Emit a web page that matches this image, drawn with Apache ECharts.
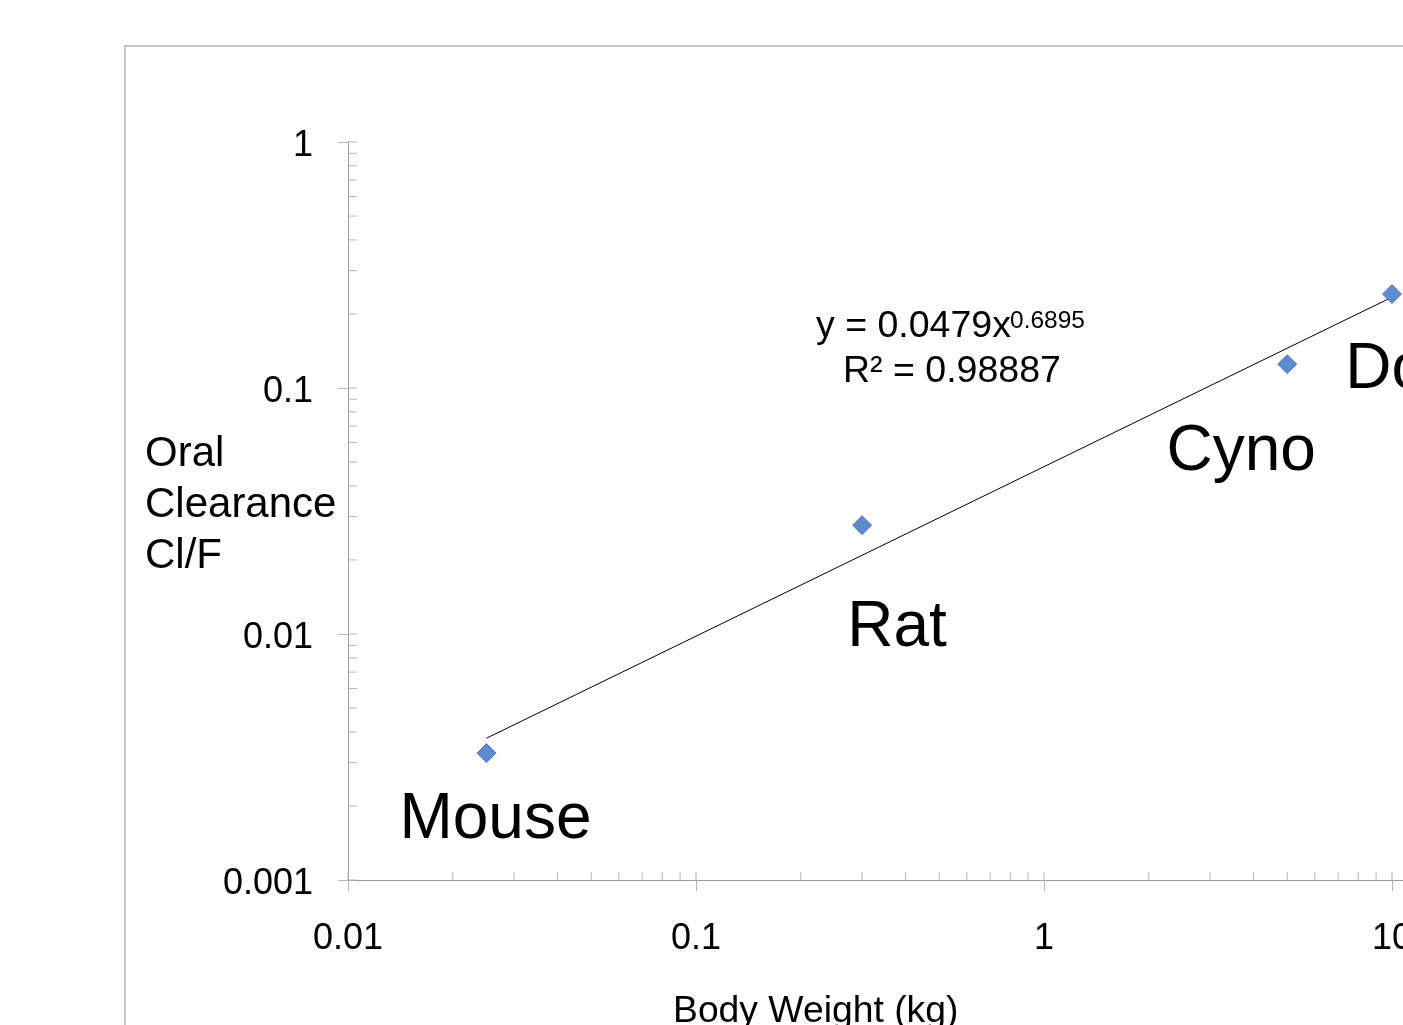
<!DOCTYPE html>
<html>
<head>
<meta charset="utf-8">
<script src="https://cdn.jsdelivr.net/npm/echarts@6/dist/echarts.min.js"></script>
<style>
  html, body { margin: 0; padding: 0; background: #fff; overflow: hidden; }
  #chart { width: 1800px; height: 1025px; }
</style>
</head>
<body>
<div id="chart"></div>
<script>
'use strict';

// species, body weight (kg) and oral clearance Cl/F
const species = ['Mouse', 'Rat', 'Cyno', 'Dog'];
const bodyWeight = [0.025, 0.30, 5.0, 10];
const clearance = [0.00328, 0.0277, 0.125, 0.241];

// power trendline y = 0.0479x^0.6895, end points
const trendX = [0.025, 10];
const trendY = [0.00377, 0.234];

const xTickLabels = ['0.01', '0.1', '1', '10', '100'];
const yTickLabels = ['0.001', '0.01', '0.1', '1'];

// label placement, px from the marker
const labelOffsets = [[9, 67], [35, 103], [-46, 88], [12, 76]];

const FONT = '"Liberation Sans", Arial, sans-serif';
const axisGray = '#9c9c9c';
const tickGray = '#b5b5b5';

// minor ticks at 2..9 within each decade
function minorTicks(from, to) {
    const out = [];
    for (let d = from; d < to; d++) {
        for (let k = 2; k <= 9; k++) out.push(k * Math.pow(10, d));
    }
    return out;
}
const xMinor = minorTicks(-2, 2);
const yMinor = minorTicks(-3, 0);
const xMajor = xTickLabels.map(Number);
const yMajor = yTickLabels.map(Number);

const chart = echarts.init(document.getElementById('chart'));

function tickItem(x1, y1, x2, y2) {
    return {
        type: 'line',
        shape: {x1, y1, x2, y2},
        style: {stroke: tickGray, lineWidth: 1}
    };
}

function labelFor(majors, labels, wrap) {
    return v => {
        const i = majors.findIndex(m => Math.abs(Math.log10(m) - Math.log10(v)) < 1e-6);
        if (i < 0) return '';
        return wrap ? '{a|' + labels[i] + '}' : labels[i];
    };
}

chart.setOption({
    animation: false,
    backgroundColor: '#fff',
    grid: {left: 348, top: 142, width: 1392, height: 738, containLabel: false},
    xAxis: {
        type: 'log',
        logBase: 10,
        min: 0.01,
        max: 100,
        axisLine: {lineStyle: {color: axisGray, width: 1}},
        axisTick: {show: true, length: 11, lineStyle: {color: tickGray}},
        splitLine: {show: false},
        axisLabel: {
            color: '#000', fontFamily: FONT, fontSize: 36, margin: 41,
            formatter: labelFor(xMajor, xTickLabels, false)
        }
    },
    yAxis: {
        type: 'log',
        logBase: 10,
        min: 0.001,
        max: 1,
        axisLine: {show: true, lineStyle: {color: axisGray, width: 1}},
        axisTick: {show: true, length: 10, lineStyle: {color: tickGray}},
        splitLine: {show: false},
        axisLabel: {
            color: '#000', fontFamily: FONT, fontSize: 36, margin: 35,
            formatter: labelFor(yMajor, yTickLabels, true),
            rich: {
                a: {color: '#000', fontFamily: FONT, fontSize: 36, padding: [8, 0, 0, 0]}
            }
        }
    },
    graphic: [
        {
            type: 'rect',
            shape: {x: 125, y: 46, width: 2000, height: 2000},
            style: {fill: 'none', stroke: '#c6c6c6', lineWidth: 2},
            silent: true
        },
        {
            type: 'text', left: 145, top: 429,
            style: {
                text: 'Oral\nClearance\nCl/F',
                fontFamily: FONT, fontSize: 42, lineHeight: 51, fill: '#000'
            }
        },
        {
            type: 'text', left: 816, top: 308,
            style: {text: 'y = 0.0479x', fontFamily: FONT, fontSize: 37.5, fill: '#000'}
        },
        {
            type: 'text', left: 1010, top: 309,
            style: {text: '0.6895', fontFamily: FONT, fontSize: 24.5, fill: '#000'}
        },
        {
            type: 'text', left: 843, top: 353,
            style: {text: 'R² = 0.98887', fontFamily: FONT, fontSize: 37.5, fill: '#000'}
        },
        {
            type: 'text', left: 673, top: 993,
            style: {text: 'Body Weight (kg)', fontFamily: FONT, fontSize: 37.3, fill: '#000'}
        }
    ],
    series: [
        {
            type: 'line',
            data: trendX.map((x, i) => [x, trendY[i]]),
            showSymbol: false,
            symbol: 'none',
            lineStyle: {color: '#000', width: 1},
            z: 2
        },
        {
            type: 'scatter',
            data: bodyWeight.map((x, i) => ({
                value: [x, clearance[i]],
                name: species[i],
                label: {offset: labelOffsets[i]}
            })),
            symbol: 'diamond',
            symbolSize: 19,
            itemStyle: {color: '#5b8cd0', borderColor: '#6f72b5', borderWidth: 1, opacity: 1},
            label: {
                show: true,
                position: 'inside',
                formatter: p => p.name,
                color: '#000',
                fontFamily: FONT,
                fontSize: 64,
                align: 'center',
                verticalAlign: 'middle'
            },
            z: 3
        },
        {
            // minor + inside major ticks on the x axis
            type: 'custom',
            data: xMinor.map(v => [v, 0.001, 8]).concat(xMajor.map(v => [v, 0.001, 8])),
            silent: true,
            renderItem: (params, api) => {
                const p = api.coord([api.value(0), api.value(1)]);
                return tickItem(p[0], p[1], p[0], p[1] - api.value(2));
            },
            z: 1
        },
        {
            // minor + inside major ticks on the y axis
            type: 'custom',
            data: yMinor.map(v => [0.01, v, 9]).concat(yMajor.map(v => [0.01, v, 9])),
            silent: true,
            renderItem: (params, api) => {
                const p = api.coord([api.value(0), api.value(1)]);
                return tickItem(p[0], p[1], p[0] + api.value(2), p[1]);
            },
            z: 1
        }
    ]
});
</script>
</body>
</html>
